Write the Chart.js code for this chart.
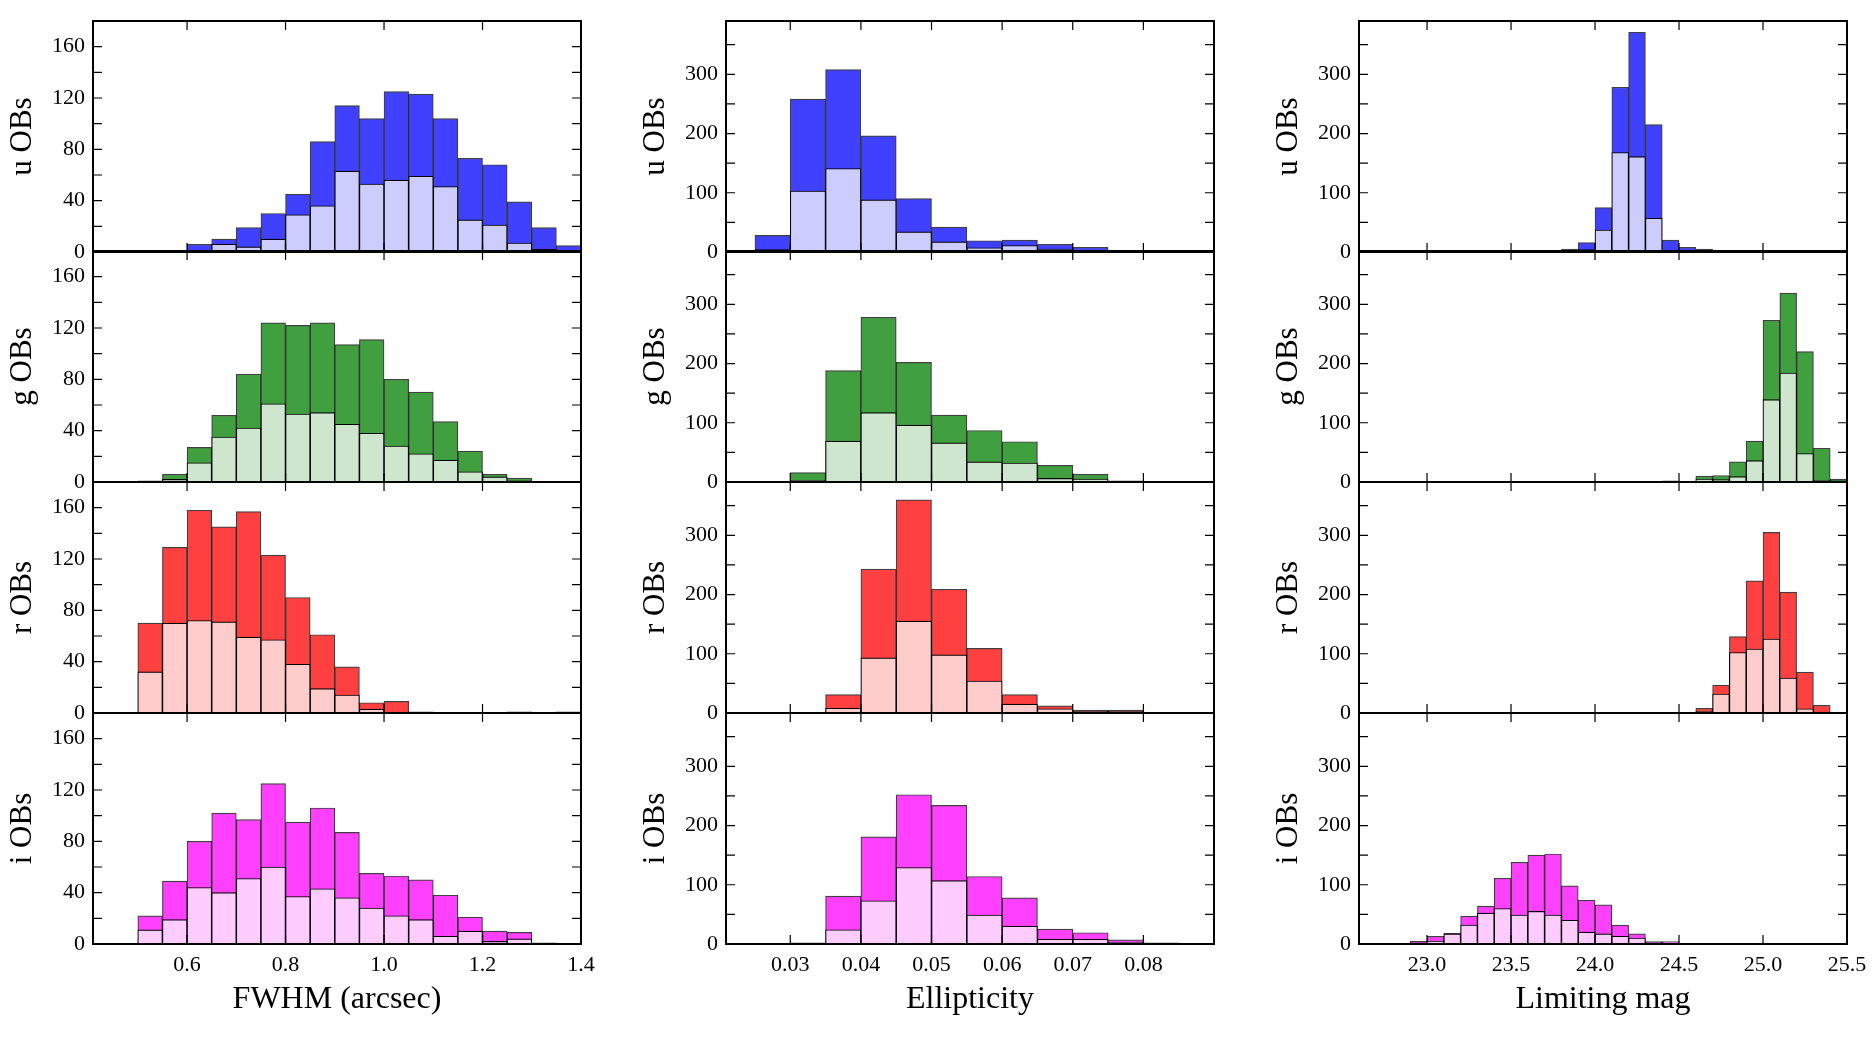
<!DOCTYPE html>
<html>
<head>
<meta charset="utf-8">
<script src="https://cdn.jsdelivr.net/npm/chart.js@4.4.1/dist/chart.umd.min.js"></script>
<style>
  body { margin: 0; background: #fff; }
  #figure { position: relative; width: 1875px; height: 1050px; overflow: hidden; }
  #figure canvas { position: absolute; }
</style>
</head>
<body>
<div id="figure"></div>
<script>
// bin left edges
const fwhmEdges = [0.50, 0.55, 0.60, 0.65, 0.70, 0.75, 0.80, 0.85, 0.90, 0.95, 1.00, 1.05, 1.10, 1.15, 1.20, 1.25, 1.30, 1.35];
const ellEdges = [0.025, 0.030, 0.035, 0.040, 0.045, 0.050, 0.055, 0.060, 0.065, 0.070, 0.075, 0.080, 0.085];
const magEdges = [22.9, 23.0, 23.1, 23.2, 23.3, 23.4, 23.5, 23.6, 23.7, 23.8, 23.9, 24.0, 24.1,
                  24.2, 24.3, 24.4, 24.5, 24.6, 24.7, 24.8, 24.9, 25.0, 25.1, 25.2, 25.3, 25.4];

// tick values
const fwhmTicks = [0.6, 0.8, 1.0, 1.2, 1.4];
const ellTicks = [0.03, 0.04, 0.05, 0.06, 0.07, 0.08];
const magTicks = [23.0, 23.5, 24.0, 24.5, 25.0, 25.5];
const fwhmYTicks = [0, 20, 40, 60, 80, 100, 120, 140, 160];
const fwhmYLabels = [0, 40, 80, 120, 160];
const countYTicks = [0, 50, 100, 150, 200, 250, 300, 350];
const countYLabels = [0, 100, 200, 300];

// FWHM histograms (all OBs / subset)
const uFwhmAll = [0, 1, 6, 10, 19, 30, 45, 86, 114, 104, 125, 123, 104, 73, 68, 39, 19, 5];
const uFwhmSub = [0, 0, 1, 6, 4, 10, 29, 36, 63, 53, 56, 59, 51, 25, 21, 7, 2, 1];
const gFwhmAll = [1, 6, 27, 52, 84, 124, 122, 124, 107, 111, 80, 70, 47, 24, 6, 3, 0, 0];
const gFwhmSub = [0, 2, 15, 35, 42, 61, 53, 54, 45, 38, 28, 22, 17, 8, 4, 1, 0, 0];
const rFwhmAll = [70, 129, 158, 145, 157, 123, 90, 61, 36, 8, 9, 1, 0, 0, 0, 1, 0, 1];
const rFwhmSub = [32, 70, 72, 71, 59, 57, 38, 19, 14, 3, 0, 0, 0, 0, 0, 0, 0, 0];
const iFwhmAll = [22, 49, 80, 102, 97, 125, 95, 106, 87, 55, 53, 50, 38, 21, 10, 9, 1, 0];
const iFwhmSub = [11, 19, 44, 40, 51, 60, 37, 43, 36, 28, 22, 19, 6, 10, 2, 4, 0, 0];

// Ellipticity histograms
const uEllAll = [28, 258, 308, 196, 90, 42, 19, 20, 13, 8, 3, 1, 1];
const uEllSub = [4, 103, 141, 88, 34, 17, 7, 11, 5, 3, 1, 0, 0];
const gEllAll = [0, 16, 188, 278, 202, 113, 87, 68, 28, 13, 2, 1, 0];
const gEllSub = [0, 3, 69, 117, 96, 66, 34, 32, 6, 5, 0, 0, 0];
const rEllAll = [0, 0, 31, 243, 360, 209, 109, 31, 12, 5, 5, 0, 0];
const rEllSub = [0, 0, 8, 93, 155, 98, 54, 15, 7, 3, 3, 0, 0];
const iEllAll = [0, 2, 81, 181, 252, 234, 114, 78, 25, 19, 7, 2, 0];
const iEllSub = [0, 0, 24, 73, 129, 107, 49, 30, 8, 8, 3, 1, 0];

// Limiting magnitude histograms
const uMagAll = [0, 0, 0, 0, 1, 0, 0, 0, 1, 5, 16, 75, 278, 371, 215, 20, 8, 5, 3, 0, 0, 0, 0, 0, 0, 0];
const uMagSub = [0, 0, 0, 0, 0, 0, 0, 0, 0, 2, 4, 37, 168, 161, 57, 0, 2, 0, 0, 0, 0, 0, 0, 0, 0, 0];
const gMagAll = [0, 0, 0, 0, 0, 0, 0, 0, 0, 0, 0, 0, 0, 0, 1, 2, 1, 10, 11, 34, 69, 273, 319, 220, 57, 5];
const gMagSub = [0, 0, 0, 0, 0, 0, 0, 0, 0, 0, 0, 0, 0, 0, 0, 0, 0, 5, 4, 9, 36, 139, 184, 48, 3, 2];
const rMagAll = [0, 0, 0, 0, 0, 0, 0, 0, 0, 0, 0, 0, 0, 0, 0, 0, 1, 8, 47, 129, 223, 305, 204, 69, 13, 0];
const rMagSub = [0, 0, 0, 0, 0, 0, 0, 0, 0, 0, 0, 0, 0, 0, 0, 0, 0, 3, 32, 102, 108, 125, 59, 7, 0, 0];
const iMagAll = [5, 13, 18, 47, 64, 111, 138, 150, 152, 98, 74, 66, 32, 17, 4, 4, 1, 0, 0, 0, 0, 0, 0, 0, 0, 0];
const iMagSub = [2, 5, 17, 32, 52, 60, 49, 55, 49, 40, 20, 17, 13, 10, 2, 0, 1, 0, 0, 0, 0, 0, 0, 0, 0, 0];

const bands = ['u', 'g', 'r', 'i'];
const bandColors = {
    u: ['rgb(64, 64, 255)', 'rgb(204, 204, 255)'],
    g: ['rgb(64, 160, 64)', 'rgb(206, 230, 206)'],
    r: ['rgb(255, 64, 64)', 'rgb(255, 204, 204)'],
    i: ['rgb(255, 64, 255)', 'rgb(255, 204, 255)']
};

const columns = [
    { edges: fwhmEdges, min: 0.409, max: 1.4, ticks: fwhmTicks, digits: 1, title: 'FWHM (arcsec)',
      yMax: 180, yTicks: fwhmYTicks, yLabels: fwhmYLabels,
      series: { u: [uFwhmAll, uFwhmSub], g: [gFwhmAll, gFwhmSub], r: [rFwhmAll, rFwhmSub], i: [iFwhmAll, iFwhmSub] } },
    { edges: ellEdges, min: 0.0209, max: 0.09, ticks: ellTicks, digits: 2, title: 'Ellipticity',
      yMax: 390, yTicks: countYTicks, yLabels: countYLabels,
      series: { u: [uEllAll, uEllSub], g: [gEllAll, gEllSub], r: [rEllAll, rEllSub], i: [iEllAll, iEllSub] } },
    { edges: magEdges, min: 22.595, max: 25.5, ticks: magTicks, digits: 1, title: 'Limiting mag',
      yMax: 390, yTicks: countYTicks, yLabels: countYLabels,
      series: { u: [uMagAll, uMagSub], g: [gMagAll, gMagSub], r: [rMagAll, rMagSub], i: [iMagAll, iMagSub] } }
];

// layout (px)
const colLeft = [93, 726, 1359];
const rowTop = [21, 251, 482, 713];
const PANEL_W = 488, PANEL_H = 231;
const Y_AXIS_W = 92, X_AXIS_H = 76;
const PAD_TOP = 14, PAD_BOTTOM = 14, PAD_RIGHT = 26;

Chart.defaults.font.family = "'Liberation Serif', 'DejaVu Serif', serif";
Chart.defaults.color = '#000';
Chart.defaults.animation = false;

// frame + inward ticks on all four sides, like the classic matplotlib look
function makeFramePlugin(xTicks, yTicks) {
    return {
        id: 'frame',
        afterDraw(chart) {
            const { ctx, chartArea: a, scales } = chart;
            ctx.save();
            ctx.strokeStyle = '#000';
            ctx.lineWidth = 1.2;
            ctx.beginPath();
            xTicks.forEach(v => {
                const px = scales.x.getPixelForValue(v);
                ctx.moveTo(px, a.bottom); ctx.lineTo(px, a.bottom - 9);
                ctx.moveTo(px, a.top); ctx.lineTo(px, a.top + 9);
            });
            yTicks.forEach(v => {
                const py = scales.y.getPixelForValue(v);
                ctx.moveTo(a.left, py); ctx.lineTo(a.left + 9, py);
                ctx.moveTo(a.right, py); ctx.lineTo(a.right - 9, py);
            });
            ctx.stroke();
            ctx.lineWidth = 2;
            ctx.strokeRect(a.left, a.top, a.right - a.left, a.bottom - a.top);
            ctx.restore();
        }
    };
}

function histPoints(edges, counts) {
    const w = edges[1] - edges[0];
    return counts.map((c, k) => ({ x: edges[k] + w / 2, y: c }));
}

function drawPanel(col, row) {
    const spec = columns[col];
    const band = bands[row];
    const [allCounts, subCounts] = spec.series[band];
    const [darkColor, lightColor] = bandColors[band];
    const bottomRow = row === bands.length - 1;
    const xAxisH = bottomRow ? X_AXIS_H : 0;
    const padBottom = bottomRow ? 6 : PAD_BOTTOM;

    const canvas = document.createElement('canvas');
    canvas.width = Y_AXIS_W + PANEL_W + PAD_RIGHT;
    canvas.height = PAD_TOP + PANEL_H + xAxisH + padBottom;
    canvas.style.left = (colLeft[col] - Y_AXIS_W) + 'px';
    canvas.style.top = (rowTop[row] - PAD_TOP) + 'px';
    document.getElementById('figure').appendChild(canvas);

    new Chart(canvas, {
        type: 'bar',
        data: {
            datasets: [
                {
                    data: histPoints(spec.edges, subCounts),
                    backgroundColor: lightColor,
                    borderColor: '#000',
                    borderWidth: 1.1,
                    borderSkipped: false,
                    grouped: false,
                    barPercentage: 1,
                    categoryPercentage: 1,
                    order: 0
                },
                {
                    data: histPoints(spec.edges, allCounts),
                    backgroundColor: darkColor,
                    borderColor: 'rgba(0, 0, 0, 0.75)',
                    borderWidth: 1.2,
                    borderSkipped: false,
                    grouped: false,
                    barPercentage: 1,
                    categoryPercentage: 1,
                    order: 1
                }
            ]
        },
        options: {
            responsive: false,
            maintainAspectRatio: false,
            animation: false,
            layout: { padding: { top: PAD_TOP, right: PAD_RIGHT, bottom: padBottom, left: 0 } },
            plugins: { legend: { display: false }, tooltip: { enabled: false } },
            scales: {
                x: {
                    type: 'linear',
                    display: bottomRow,
                    min: spec.min,
                    max: spec.max,
                    offset: false,
                    grid: { display: false, drawTicks: false },
                    border: { display: false },
                    afterBuildTicks: s => { s.ticks = spec.ticks.map(v => ({ value: v })); },
                    afterFit: s => { s.height = xAxisH; s.paddingLeft = 0; s.paddingRight = 0; },
                    ticks: {
                        autoSkip: false,
                        maxRotation: 0,
                        padding: 8,
                        font: { size: 22 },
                        callback: v => Number(v).toFixed(spec.digits)
                    },
                    title: {
                        display: bottomRow,
                        text: spec.title,
                        font: { size: 32 },
                        padding: { top: 0, bottom: 1 }
                    }
                },
                y: {
                    min: 0,
                    max: spec.yMax,
                    grid: { display: false, drawTicks: false },
                    border: { display: false },
                    afterBuildTicks: s => { s.ticks = spec.yTicks.map(v => ({ value: v })); },
                    afterFit: s => { s.width = Y_AXIS_W; s.paddingTop = 0; s.paddingBottom = 0; },
                    ticks: {
                        padding: 8,
                        font: { size: 22 },
                        callback: v => spec.yLabels.includes(v) ? String(v) : ''
                    },
                    title: {
                        display: true,
                        text: band + ' OBs',
                        font: { size: 31 },
                        padding: { top: 3, bottom: 0 }
                    }
                }
            }
        },
        plugins: [makeFramePlugin(spec.ticks, spec.yTicks)]
    });
}

for (let col = 0; col < columns.length; col++) {
    for (let row = 0; row < bands.length; row++) {
        drawPanel(col, row);
    }
}
</script>
</body>
</html>
